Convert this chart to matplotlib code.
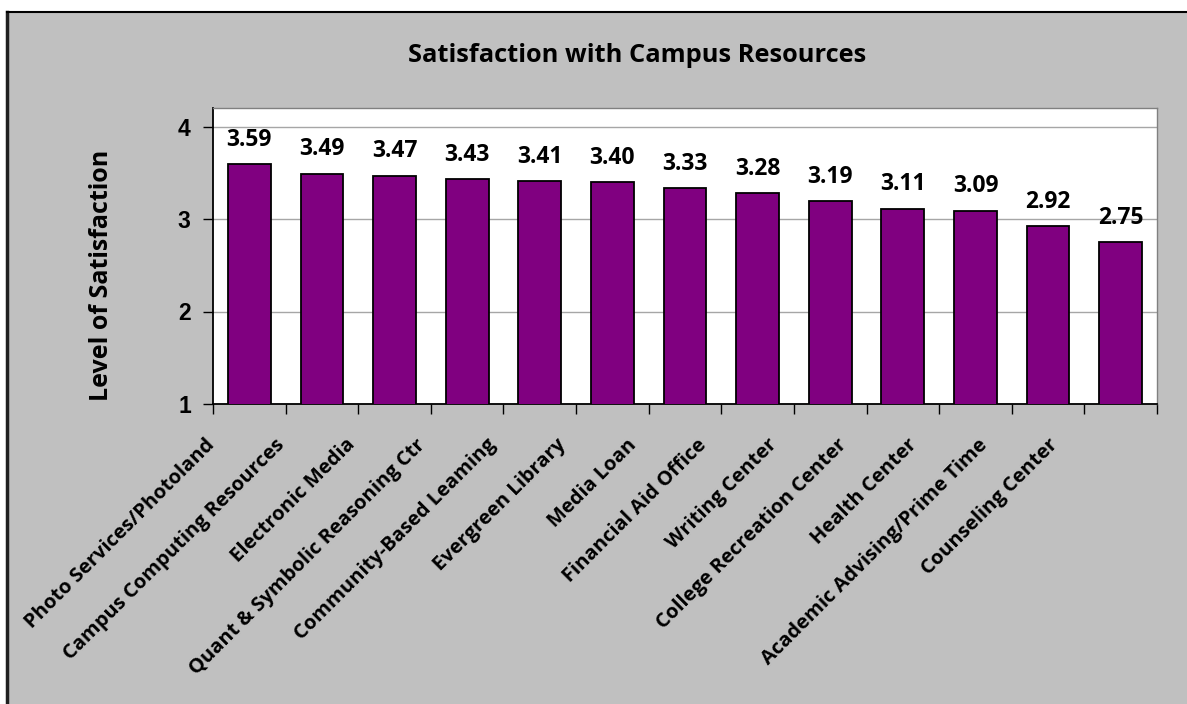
import matplotlib
matplotlib.use('Agg')
import matplotlib.pyplot as plt
import matplotlib.transforms as mtransforms
from matplotlib.patches import Rectangle
import numpy as np

categories = ['Photo Services/Photoland', 'Campus Computing Resources', 'Electronic Media',
              'Quant & Symbolic Reasoning Ctr', 'Community-Based Leaming', 'Evergreen Library',
              'Media Loan', 'Financial Aid Office', 'Writing Center', 'College Recreation Center',
              'Health Center', 'Academic Advising/Prime Time', 'Counseling Center']
scores = [3.59, 3.49, 3.47, 3.43, 3.41, 3.40, 3.33, 3.28, 3.19, 3.11, 3.09, 2.92, 2.75]
y_ticks = [1, 2, 3, 4]

plt.rcParams['font.weight'] = 'bold'
FONT = ['Open Sans', 'DejaVu Sans']
bg = '#C0C0C0'

fig = plt.figure(figsize=(11.87, 7.04), dpi=100, facecolor='white')

# chart area (gray with black border on top/left)
fig.patches.append(Rectangle((7 / 1187, 0), 1.0, 1 - 12 / 704, transform=fig.transFigure,
                             facecolor=bg, edgecolor='none', zorder=-5))
fig.add_artist(plt.Line2D([7 / 1187, 7 / 1187], [0, 1 - 12 / 704], color='#202020', lw=2.5,
                          transform=fig.transFigure))
fig.add_artist(plt.Line2D([7 / 1187, 1], [1 - 12 / 704, 1 - 12 / 704], color='black', lw=1.5,
                          transform=fig.transFigure))

ax = fig.add_axes([213 / 1187, 1 - 404 / 704, (1157 - 213) / 1187, (404 - 108) / 704])
ax.set_zorder(2)
ax.set_facecolor('white')

x = np.arange(len(categories))
bars = ax.bar(x, scores, width=0.59, bottom=0, color='#800080', edgecolor='black', linewidth=1.3, zorder=3)
ax.set_xlim(-0.5, len(categories) - 0.5)
ax.set_ylim(1, 4.2)

ax.set_yticks(y_ticks)
ax.set_yticklabels([str(v) for v in y_ticks], fontfamily='Liberation Sans', fontweight='bold', fontsize=16.5)
ax.grid(axis='y', color='#A6A6A6', linewidth=1, zorder=0)
ax.tick_params(axis='y', direction='out', length=7, width=1, pad=9)

# ticks at category boundaries, labels at centres
ax.set_xticks(np.arange(len(categories) + 1) - 0.5, minor=True)
ax.set_xticks(x)
ax.tick_params(axis='x', which='minor', direction='out', length=7, width=1)
ax.tick_params(axis='x', which='major', length=0, pad=0)
ax.set_xticklabels(categories, rotation=45, ha='right', va='top', rotation_mode='anchor',
                   fontfamily=FONT, fontweight='bold', fontsize=14.5)
for i, lab in enumerate(ax.get_xticklabels()):
    off = mtransforms.ScaledTranslation((-45 - 2.3 * i) / 100, -31 / 100, fig.dpi_scale_trans)
    lab.set_transform(lab.get_transform() + off)

for s in ['left', 'bottom']:
    ax.spines[s].set_color('black')
    ax.spines[s].set_linewidth(1.3)
for s in ['top', 'right']:
    ax.spines[s].set_color('#808080')
    ax.spines[s].set_linewidth(1)

for b, v in zip(bars, scores):
    ax.annotate(f'{v:.2f}', (b.get_x() + b.get_width() / 2, v), xytext=(0, 9), textcoords='offset points',
                ha='center', va='bottom', fontfamily=FONT, fontweight='bold', fontsize=16.5)

fig.text(637 / 1187, 1 - 55 / 704, 'Satisfaction with Campus Resources', ha='center', va='center',
         fontfamily=FONT, fontweight='bold', fontsize=18.3)
fig.text(101 / 1187, 1 - 275 / 704, 'Level of Satisfaction', ha='center', va='center', rotation=90,
         fontfamily=FONT, fontweight='bold', fontsize=18)

fig.savefig('out.png', dpi=100, facecolor=fig.get_facecolor())
